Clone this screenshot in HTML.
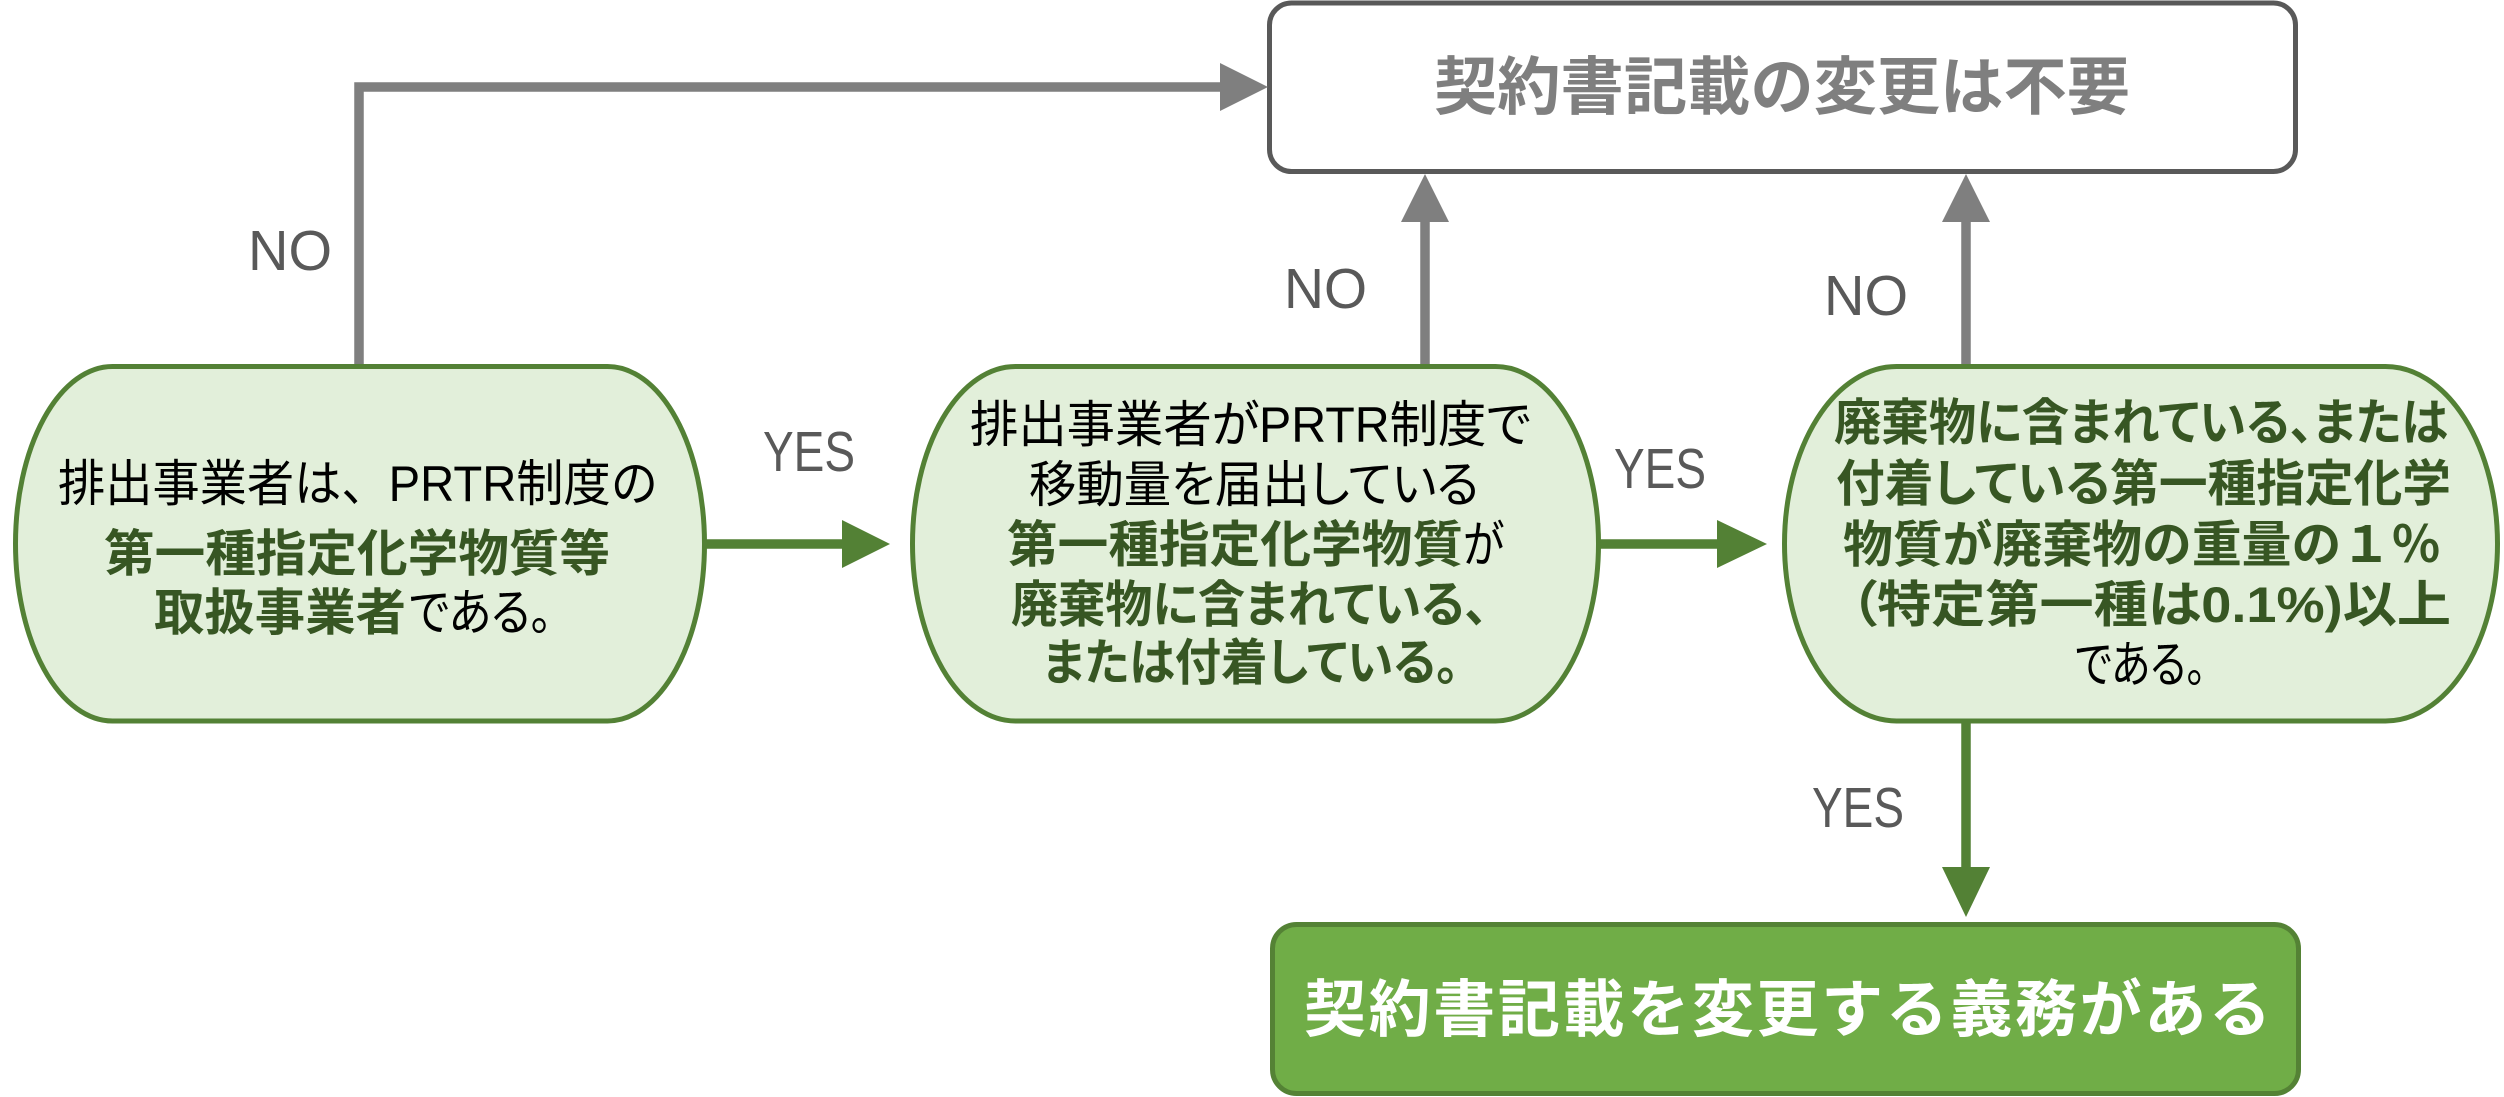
<!DOCTYPE html>
<html>
<head>
<meta charset="utf-8">
<style>
html,body{margin:0;padding:0;background:#fff;}
svg{display:block;}
text{font-family:"Liberation Sans","Noto Sans CJK JP",sans-serif;}
.n{font-size:50px;fill:#000;font-feature-settings:"palt";}
.b{font-size:50px;fill:#375623;font-weight:bold;font-feature-settings:"palt";}
.np{font-feature-settings:normal;}
.lbl{font-size:57px;fill:#595959;}
</style>
</head>
<body>
<svg width="2504" height="1097" viewBox="0 0 2504 1097" xmlns="http://www.w3.org/2000/svg">
  <rect x="0" y="0" width="2504" height="1097" fill="#fff"/>

  <!-- Top box -->
  <rect x="1269.5" y="3" width="1026" height="168.5" rx="22" ry="22" fill="#fff" stroke="#595959" stroke-width="5"/>
  <text x="1434" y="109" font-size="63" font-weight="bold" fill="#7f7f7f" textLength="696" lengthAdjust="spacingAndGlyphs">契約書記載の変更は不要</text>

  <!-- Bottom box -->
  <rect x="1272.5" y="924.5" width="1026" height="169" rx="24" ry="24" fill="#70ad47" stroke="#548235" stroke-width="5"/>
  <text x="1304" y="1031" font-size="62" font-weight="bold" fill="#ffffff" textLength="967" lengthAdjust="spacing">契約書記載を変更する義務がある</text>

  <!-- Gray connectors -->
  <polyline points="359,366 359,87 1222,87" fill="none" stroke="#7f7f7f" stroke-width="9.5"/>
  <polygon points="1220,63 1268,87 1220,111" fill="#7f7f7f"/>

  <line x1="1425" y1="366" x2="1425" y2="220" stroke="#7f7f7f" stroke-width="9.5"/>
  <polygon points="1401,222 1425,174 1449,222" fill="#7f7f7f"/>

  <line x1="1966" y1="366" x2="1966" y2="220" stroke="#7f7f7f" stroke-width="9.5"/>
  <polygon points="1942,222 1966,174 1990,222" fill="#7f7f7f"/>

  <!-- Green connectors -->
  <line x1="705" y1="544" x2="844" y2="544" stroke="#538135" stroke-width="9.5"/>
  <polygon points="842,520 890,544 842,568" fill="#538135"/>

  <line x1="1599" y1="544" x2="1719" y2="544" stroke="#538135" stroke-width="9.5"/>
  <polygon points="1717,520 1767,544 1717,568" fill="#538135"/>

  <line x1="1966" y1="721" x2="1966" y2="869" stroke="#538135" stroke-width="9.5"/>
  <polygon points="1942,867 1966,917 1990,867" fill="#538135"/>

  <!-- Nodes -->
  <path d="M112.5,366.5 H607.5 A97,177.25 0 0 1 704.5,543.75 A97,177.25 0 0 1 607.5,721 H112.5 A97,177.25 0 0 1 15.5,543.75 A97,177.25 0 0 1 112.5,366.5 Z" fill="#e2efda" stroke="#538135" stroke-width="5"/>
  <path d="M1015.5,366.5 H1495.5 A103,177.25 0 0 1 1598.5,543.75 A103,177.25 0 0 1 1495.5,721 H1015.5 A103,177.25 0 0 1 912.5,543.75 A103,177.25 0 0 1 1015.5,366.5 Z" fill="#e2efda" stroke="#538135" stroke-width="5"/>
  <path d="M1896.5,366.5 H2385.5 A112,177.25 0 0 1 2497.5,543.75 A112,177.25 0 0 1 2385.5,721 H1896.5 A112,177.25 0 0 1 1784.5,543.75 A112,177.25 0 0 1 1896.5,366.5 Z" fill="#e2efda" stroke="#538135" stroke-width="5"/>

  <!-- Left node text -->
  <text class="n np" x="58" y="501" textLength="600" lengthAdjust="spacingAndGlyphs">排出事業者は、PRTR制度の</text>
  <text class="b" x="104" y="571" textLength="506" lengthAdjust="spacingAndGlyphs">第一種指定化学物質等</text>
  <text class="b" x="154" y="630" textLength="252" lengthAdjust="spacingAndGlyphs">取扱事業者</text>
  <text class="n" x="409" y="630" textLength="143" lengthAdjust="spacingAndGlyphs">である。</text>

  <!-- Middle node text -->
  <text class="n" x="970" y="442" textLength="561" lengthAdjust="spacingAndGlyphs">排出事業者がPRTR制度で</text>
  <text class="n" x="1029" y="502" textLength="450" lengthAdjust="spacingAndGlyphs">移動量を届出している</text>
  <text class="b" x="1007" y="562" textLength="456" lengthAdjust="spacingAndGlyphs">第一種指定化学物質</text>
  <text class="n" x="1463" y="562" textLength="41" lengthAdjust="spacingAndGlyphs">が</text>
  <text class="b" x="1011" y="622" textLength="477" lengthAdjust="spacingAndGlyphs">廃棄物に含まれている、</text>
  <text class="b" x="1043" y="680" textLength="416" lengthAdjust="spacingAndGlyphs">または付着している。</text>

  <!-- Right node text -->
  <text class="b" x="1834" y="440" textLength="614" lengthAdjust="spacingAndGlyphs">廃棄物に含まれている、または</text>
  <text class="b" x="1836" y="501" textLength="615" lengthAdjust="spacingAndGlyphs">付着している第一種指定化学</text>
  <text class="b np" x="1843" y="562" textLength="598" lengthAdjust="spacingAndGlyphs">物質が廃棄物の重量の１％</text>
  <text class="b" x="1850" y="622" textLength="601" lengthAdjust="spacingAndGlyphs">（特定第一種は0.1%)以上</text>
  <text class="n" x="2075" y="682" textLength="131" lengthAdjust="spacingAndGlyphs">である。</text>

  <!-- Labels -->
  <text class="lbl" x="248" y="270" textLength="84" lengthAdjust="spacingAndGlyphs">NO</text>
  <text class="lbl" x="1284" y="308" textLength="83" lengthAdjust="spacingAndGlyphs">NO</text>
  <text class="lbl" x="1824" y="315" textLength="84" lengthAdjust="spacingAndGlyphs">NO</text>
  <text class="lbl" x="763" y="471" textLength="92" lengthAdjust="spacingAndGlyphs">YES</text>
  <text class="lbl" x="1614" y="488" textLength="92" lengthAdjust="spacingAndGlyphs">YES</text>
  <text class="lbl" x="1812" y="827" textLength="92" lengthAdjust="spacingAndGlyphs">YES</text>
</svg>
</body>
</html>
